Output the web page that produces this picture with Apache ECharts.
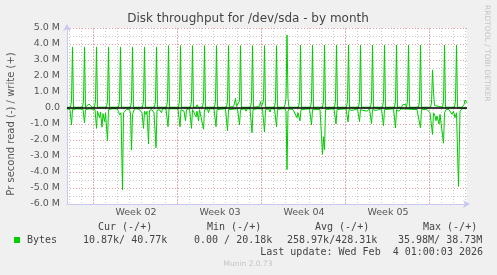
<!DOCTYPE html>
<html>
<head>
<meta charset="utf-8">
<script src="https://cdn.jsdelivr.net/npm/echarts@6/dist/echarts.min.js"></script>
<style>html,body{margin:0;padding:0;background:#f0f0f0}#c{width:497px;height:275px}</style>
</head>
<body>
<div id="c"></div>
<script>
// x values: hours since start of the 800-hour (≈33 day) window; y values: millions of bytes/s
const weekHours = [138, 306, 474, 642];
const weekLabels = ['Week 02', 'Week 03', 'Week 04', 'Week 05'];
const weekGridHours = [52, 220, 388, 556, 724];
const yTicks = [-6, -5, -4, -3, -2, -1, 0, 1, 2, 3, 4, 5];

// write (+)
const writeSeries = [
[0,0.03],
[7,0.05],[9,0.45],[11,3.82],[13,0.05],
[31,0.05],[33,0.45],[35,3.82],[37,0.05],
[40,0.05],[44,0.25],[46,0.18],[48,0.25],[50,0.05],
[55,0.05],[57,0.45],[59,3.82],[61,0.05],
[79,0.05],[81,0.45],[83,3.82],[85,0.05],
[103,0.05],[105,0.45],[107,3.82],[109,0.05],
[127,0.05],[129,0.45],[131,3.82],[133,0.05],
[151,0.05],[153,0.45],[155,3.82],[157,0.05],
[175,0.05],[177,0.45],[179,3.82],[181,0.05],
[199,0.05],[201,0.45],[203,3.9],[205,0.05],
[223,0.05],[225,0.45],[227,3.9],[229,0.05],
[247,0.05],[249,0.45],[251,3.9],[253,0.05],
[258,0.05],[260,0.2],[262,0.05],
[271,0.05],[273,0.45],[275,3.9],[277,0.05],
[295,0.05],[297,0.45],[299,3.9],[301,0.05],
[319,0.05],[321,0.45],[323,3.9],[325,0.05],
[333,0.1],[335,0.3],[337,0.6],[339,0.1],
[343,0.05],[345,0.45],[347,3.9],[349,0.05],
[367,0.05],[369,0.45],[371,3.9],[373,0.05],
[385,0.1],[387,0.4],[389,0.1],
[391,0.05],[393,0.45],[395,3.9],[397,0.05],
[415,0.05],[417,0.45],[419,3.9],[421,0.05],
[434,0.05],[436,0.2],[438,0.6],[440,4.56],[442,0.6],[444,0.05],
[463,0.05],[465,0.45],[467,3.94],[469,0.05],
[487,0.05],[489,0.45],[491,3.94],[493,0.05],
[511,0.05],[513,0.45],[515,3.94],[517,0.05],
[535,0.05],[537,0.45],[539,3.94],[541,0.05],
[559,0.05],[561,0.45],[563,3.94],[565,0.05],
[583,0.05],[585,0.45],[587,3.94],[589,0.05],
[607,0.05],[609,0.45],[611,3.94],[613,0.05],
[631,0.05],[633,0.45],[635,3.94],[637,0.05],
[655,0.05],[657,0.45],[659,3.94],[661,0.05],
[669,0.05],[672,0.22],[675,0.12],[677,0.22],[679,0.05],
[681,0.45],[683,3.94],[685,0.05],
[703,0.05],[705,0.45],[707,3.94],[709,0.05],
[727,0.05],[729,0.3],[731,2.38],[733,1.0],[735,0.15],[737,0.05],
[751,0.05],[753,0.45],[755,3.94],[757,0.05],
[775,0.05],[777,0.45],[779,3.94],[781,0.05],
[790,0.05],[794,0.2],[796,0.5],[800,0.3]
];

// read (-)
const readSeries = [
[0,-0.05],[6,-0.1],[9,-1.06],[11,-0.1],[20,-0.05],
[32,-0.08],[35,-0.92],[37,-0.1],[45,-0.05],
[56,-0.1],[59,-1.27],[61,-0.2],[63,-0.3],[65,-0.6],[67,-0.25],[70,-1.2],[72,-0.35],[75,-0.85],[77,-0.3],[79,-0.2],[81,-2.04],[83,-0.1],[90,-0.05],
[100,-0.05],[103,-0.2],[105,-0.44],[108,-0.3],[111,-5.12],[113,-0.3],[117,-0.4],[119,-0.1],
[125,-0.1],[127,-0.3],[129,-2.63],[131,-0.4],[133,-0.4],[135,-0.05],
[140,-0.05],[145,-0.1],[150,-0.3],[153,-1.27],[155,-0.2],[158,-0.4],[160,-0.2],[163,-2.25],[165,-0.15],[170,-0.1],[174,-0.3],[178,-2.48],[180,-0.15],[185,-0.1],[189,-0.3],[191,-0.05],
[198,-0.05],[202,-1.17],[204,-0.05],
[222,-0.05],[226,-1.17],[228,-0.1],[231,-0.1],[234,-0.2],[237,-0.8],[239,-0.1],
[245,-0.05],[249,-1.27],[251,-0.1],[254,-0.2],[258,-0.55],[260,-0.2],[263,-0.8],[265,-0.1],
[269,-0.05],[273,-1.33],[275,-0.1],
[281,-0.05],[283,-0.3],[285,-0.05],
[294,-0.05],[298,-1.17],[300,-0.1],[304,-0.1],
[317,-0.05],[321,-1.42],[323,-0.1],
[341,-0.05],[345,-1.06],[347,-0.1],
[356,-0.05],[358,-0.2],[360,-0.05],
[366,-0.05],[370,-1.54],[372,-0.1],[380,-0.05],[382,-0.15],[384,-0.05],
[391,-0.05],[395,-1.5],[397,-0.1],
[404,-0.05],[406,-0.25],[408,-0.05],
[415,-0.05],[419,-1.17],[421,-0.1],
[430,-0.05],[436,-0.05],[438,-0.2],[440,-3.85],[442,-0.2],[444,-0.05],
[452,-0.1],[456,-0.15],[460,-0.6],[462,-0.3],[466,-0.8],[468,-0.1],
[485,-0.05],[489,-1.06],[491,-0.1],[495,-0.1],
[506,-0.1],[508,-0.2],[511,-2.9],[513,-1.8],[515,-2.6],[517,-0.1],
[534,-0.05],[538,-1.0],[540,-0.1],[544,-0.1],
[558,-0.05],[562,-0.87],[564,-0.1],[570,-0.15],
[581,-0.05],[585,-0.85],[587,-0.1],
[592,-0.15],[596,-0.1],[600,-0.2],
[605,-0.05],[609,-0.98],[611,-0.1],[618,-0.15],
[629,-0.05],[633,-1.1],[635,-0.1],
[653,-0.05],[657,-1.25],[659,-0.1],[664,-0.2],[668,-0.05],
[700,-0.1],[703,-0.05],[707,-1.25],[709,-0.1],
[720,-0.1],[726,-0.3],[731,-1.65],[733,-0.3],[736,-0.5],[738,-0.8],[740,-0.5],[744,-1.0],[746,-0.4],[749,-0.3],[753,-2.2],[755,-0.3],[758,-0.1],
[764,-0.1],[770,-0.4],[773,-0.2],[776,-0.6],[779,-0.3],[781,-0.4],[783,-4.9],[786,-0.2],[790,-0.05],[800,-0.02]
];

const legendHeaders = ['Cur (-/+)', 'Min (-/+)', 'Avg (-/+)', 'Max (-/+)'];
const legendValues = ['10.87k/ 40.77k', '0.00 / 20.18k', '258.97k/428.31k', '35.98M/ 38.73M'];
const seriesName = 'Bytes';
const lastUpdate = 'Last update: Wed Feb  4 01:00:03 2026';

const GREEN = '#00cc00';
const MONO = '10px "DejaVu Sans Mono"';
const chart = echarts.init(document.getElementById('c'), null, {renderer: 'canvas'});

function txt(x, y, text, font, fill, align, extra) {
  return Object.assign({
    type: 'text', x: x, y: y, silent: true,
    style: {text: text, font: font, fill: fill, align: align || 'left', verticalAlign: 'middle',
            textAlign: align || 'left', textVerticalAlign: 'middle'}
  }, extra || {});
}

const headerX = [98, 207, 315, 423];
const valueX = [83, 194, 287, 398];
const graphics = [
  txt(248, 19, 'Disk throughput for /dev/sda - by month', '12px "DejaVu Sans"', '#444', 'center'),
  txt(11, 124, 'Pr second read (-) / write (+)', '10px "DejaVu Sans"', '#555', 'center', {rotation: Math.PI / 2}),
  txt(487, 5, 'RRDTOOL / TOBI OETIKER', '7.5px "DejaVu Sans"', '#c4c4c4', 'left', {rotation: -Math.PI / 2}),
  {type: 'rect', shape: {x: 14, y: 237, width: 6, height: 6}, style: {fill: GREEN}, silent: true},
  txt(27, 240, seriesName, MONO, '#444', 'left'),
  txt(483, 252, lastUpdate, MONO, '#444', 'right'),
  txt(248, 264, 'Munin 2.0.73', '7.5px "DejaVu Sans"', '#c4c4c4', 'center')
];
legendHeaders.forEach((t, i) => graphics.push(txt(headerX[i], 227, t, MONO, '#444', 'left')));
legendValues.forEach((t, i) => graphics.push(txt(valueX[i], 240, t, MONO, '#444', 'left')));

const axisCol = '#c8c8f0';
const option = {
  backgroundColor: '#f0f0f0',
  animation: false,
  textStyle: {fontFamily: 'DejaVu Sans'},
  grid: [
    {left: 67, top: 28, width: 400, height: 176, show: true, backgroundColor: '#ffffff', borderWidth: 0},
    {left: 69, top: 28, width: 396, height: 176, show: false}
  ],
  xAxis: [
    {gridIndex: 0, type: 'value', min: 0, max: 800,
     splitLine: {show: false},
     axisLine: {show: true, onZero: false, lineStyle: {color: axisCol, width: 1}, symbol: ['none', 'arrow'], symbolSize: [6, 7], symbolOffset: [0, 3]},
     axisTick: {show: false},
     axisLabel: {customValues: weekHours, formatter: v => weekLabels[weekHours.indexOf(v)] || '', color: '#555', fontSize: 9.5, margin: 4, fontFamily: 'DejaVu Sans'}},
    {gridIndex: 1, type: 'value', min: 0, max: 792, interval: 24,
     axisLine: {show: false}, axisTick: {show: false}, axisLabel: {show: false},
     splitLine: {show: true, lineStyle: {color: '#c8c8c8', width: 1, type: [1, 2]}}}
  ],
  yAxis: [
    {gridIndex: 0, type: 'value', min: -6, max: 5, interval: 1,
     axisLine: {show: true, onZero: false, lineStyle: {color: axisCol, width: 1}, symbol: ['none', 'arrow'], symbolSize: [6, 7], symbolOffset: [0, 4]},
     axisTick: {show: false},
     axisLabel: {color: '#555', fontSize: 9.5, margin: 7, fontFamily: 'DejaVu Sans',
                 formatter: v => (v === 0 ? '0.0' : v.toFixed(1) + ' M')},
     splitLine: {show: true, lineStyle: {color: '#eaa0a0', width: 1, type: [1, 2]}},
     minorTick: {show: false, splitNumber: 2},
     minorSplitLine: {show: true, lineStyle: {color: '#c8c8c8', width: 1, type: [1, 2]}}},
    {gridIndex: 1, type: 'value', min: 0, max: 1, show: false, splitLine: {show: false}}
  ],
  series: [
    {type: 'line', xAxisIndex: 0, yAxisIndex: 0, data: [[0, 0]], symbol: 'none', silent: true, z: 1,
     lineStyle: {opacity: 0},
     markLine: {silent: true, symbol: 'none', label: {show: false},
                lineStyle: {color: '#eaa0a0', width: 1, type: [1, 2]},
                data: weekGridHours.map(h => ({xAxis: h}))}},
    {name: 'read', type: 'line', xAxisIndex: 0, yAxisIndex: 0, data: readSeries, symbol: 'none', z: 3,
     lineStyle: {color: GREEN, width: 1}},
    {name: 'write', type: 'line', xAxisIndex: 0, yAxisIndex: 0, data: writeSeries, symbol: 'none', z: 3,
     lineStyle: {color: GREEN, width: 1}},
    {type: 'line', xAxisIndex: 0, yAxisIndex: 0, data: [[0, 0]], symbol: 'none', silent: true, z: 5,
     lineStyle: {opacity: 0},
     markLine: {silent: true, symbol: 'none', label: {show: false},
                lineStyle: {color: '#000', width: 1.5, type: 'solid'},
                data: [{yAxis: 0}]}}
  ],
  graphic: graphics
};
chart.setOption(option);
</script>
</body>
</html>
